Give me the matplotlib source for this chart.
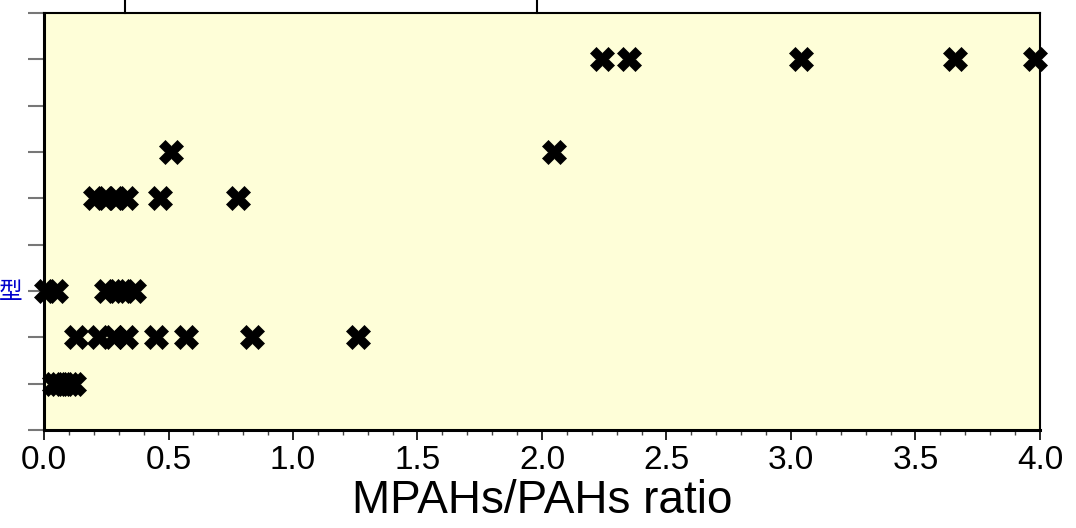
import numpy as np
import matplotlib
matplotlib.use("Agg")
import matplotlib.pyplot as plt
from matplotlib.ticker import MultipleLocator

plt.rcParams["font.family"] = ["Liberation Sans", "Noto Sans CJK SC", "DejaVu Sans"]

# ratio values per sample group (row index on the y axis)
ROW_1 = [0.04, 0.06, 0.08, 0.10, 0.12]
ROW_2 = [0.13, 0.22, 0.28, 0.33, 0.45, 0.57, 0.835, 1.26]
ROW_3 = [0.01, 0.05, 0.25, 0.29, 0.32, 0.36]
ROW_5 = [0.205, 0.245, 0.29, 0.33, 0.465, 0.78]
ROW_6 = [0.51, 2.05]
ROW_8 = [2.24, 2.35, 3.04, 3.66, 3.98]

ROWS = {1: ROW_1, 2: ROW_2, 3: ROW_3, 5: ROW_5, 6: ROW_6, 8: ROW_8}
Y_TICKS = list(range(10))
Y_LABELS = ["", "", "", "型", "", "", "", "", "", ""]
X_TICKS = [0.0, 0.5, 1.0, 1.5, 2.0, 2.5, 3.0, 3.5, 4.0]
BRACKET_X = [0.325, 1.98]

fig = plt.figure(figsize=(10.76, 5.28), dpi=100)
ax = fig.add_axes([0.0409, 0.1856, 0.9256, 0.7898])
ax.set_facecolor("#fefed8")

for row, xs in ROWS.items():
    ax.plot(xs, [row] * len(xs), linestyle="none", marker="X",
            markersize=17, color="black", markeredgecolor="black",
            markeredgewidth=0.5, clip_on=False, zorder=3)

ax.set_xlim(0, 4.0)
ax.set_ylim(0, 9)

ax.set_xticks(X_TICKS)
ax.set_xticklabels([f"{v:.1f}" for v in X_TICKS], fontsize=24)
ax.xaxis.set_minor_locator(MultipleLocator(0.1))
ax.tick_params(axis="x", which="major", direction="out", length=7,
               width=1.2, color="black", pad=4)
ax.tick_params(axis="x", which="minor", direction="out", length=3.5,
               width=1.0, color="#444444")

ax.set_yticks(Y_TICKS)
ax.set_yticklabels(Y_LABELS, fontsize=17, color="#0000cc")
ax.tick_params(axis="y", direction="out", length=11.5, width=1.5,
               color="#777777", pad=4)

ax.set_xlabel("MPAHs/PAHs ratio", fontsize=33, labelpad=2)

for side in ["left", "bottom"]:
    ax.spines[side].set_linewidth(2.2)
for side in ["top", "right"]:
    ax.spines[side].set_linewidth(1.5)

# bracket stubs above the axes
for bx in BRACKET_X:
    ax.plot([bx, bx], [9, 9.4], color="black", linewidth=1.5, clip_on=False)

fig.savefig("out.png", dpi=100)
